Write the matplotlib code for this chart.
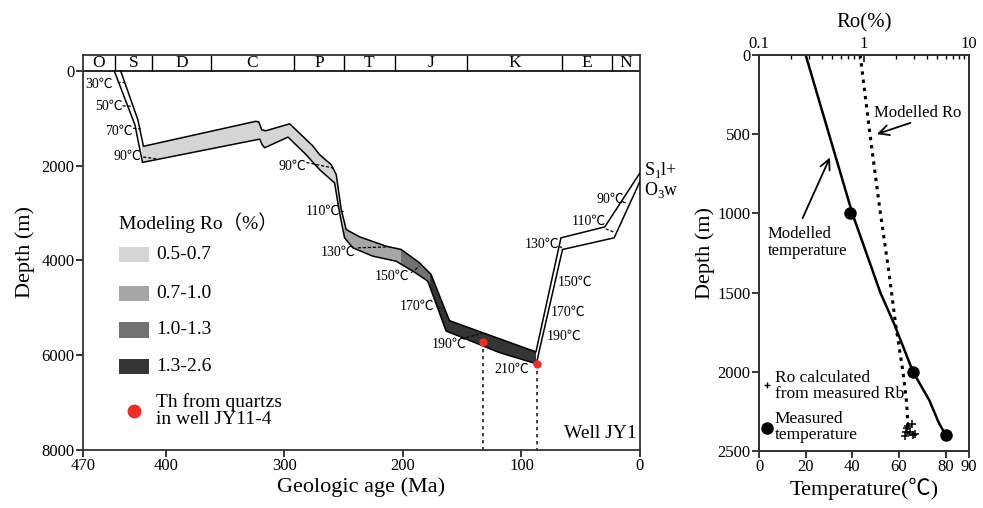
import numpy as np
import matplotlib
matplotlib.use("Agg")
import matplotlib.pyplot as plt
from matplotlib.patches import Polygon, Rectangle
from matplotlib.ticker import NullFormatter

plt.rcParams['font.family'] = ['Liberation Serif', 'Noto Sans CJK SC', 'DejaVu Serif']
plt.rcParams['mathtext.fontset'] = 'custom'
plt.rcParams['mathtext.rm'] = 'Liberation Serif'

# ---- burial history (age Ma, depth m) ----
top_age = [438.2, 423.7, 419.0, 324.3, 321.7, 319.2, 315.8, 295.6, 276.2, 270.3, 260.5, 256.3,
           252.1, 247.9, 236.6, 214.1, 201.5, 186.1, 176.3, 160.8, 87.8, 66.7, 29.7, 0]
top_depth = [0, 1030, 1590, 1063, 1074, 1242, 1263, 1116, 1579, 1768, 1979, 2189,
             2926, 3347, 3501, 3699, 3768, 4049, 4295, 5270, 5930, 3522, 3291, 2150]
bot_age = [443.6, 426.2, 419.8, 320.9, 318.8, 316.7, 297.0, 282.0, 270.3, 257.7, 253.5, 249.3,
           242.3, 225.4, 205.8, 190.0, 179.1, 163.6, 118.7, 87.5, 65.4, 21.8, 0]
bot_depth = [0, 1137, 1930, 1438, 1558, 1621, 1396, 1760, 2084, 2364, 2996, 3522,
             3733, 3909, 4015, 4250, 4436, 5488, 5943, 6180, 3768, 3522, 2330]

# Ro zones along the band (older age, younger age)
zone_ranges = [(419.8, 250), (250, 202), (202, 177.5), (177.5, 87.6)]
zone_labels = ['0.5-0.7', '0.7-1.0', '1.0-1.3', '1.3-2.6']
zone_colors = ['#d5d5d5', '#a6a6a6', '#727272', '#353535']

# geologic periods
period_bounds = [470, 443, 412, 362, 292, 250, 207, 146, 66, 24, 0]
period_names = ['O', 'S', 'D', 'C', 'P', 'T', 'J', 'K', 'E', 'N']

# isotherms: label position and dashed crossing
iso_text = ['30℃', '50℃', '70℃', '90℃', '90℃', '110℃', '130℃', '150℃', '170℃', '190℃',
            '210℃', '190℃', '170℃', '150℃', '130℃', '110℃', '90℃']
iso_age = [444.7, 436.6, 428.1, 420.5, 281.5, 253.5, 240, 194.5, 173.5, 146.7,
           93.4, 78.8, 75.1, 69.6, 68.1, 28.9, 13.4]
iso_depth = [274, 752, 1278, 1804, 2015, 2962, 3838, 4331, 4962, 5768,
             6295, 5594, 5089, 4457, 3663, 3173, 2716]
iso_side = ['r'] * 11 + ['l', 'l', 'l', 'r', 'r', 'r']
seg_age = [(441, 435), (436.6, 429), (427.6, 421.4), (419.2, 406.6), (281.5, 258.9),
           (253.5, 250.7), (238.1, 211.4), (193.1, 186.1), (171, 165.2), (146.7, 133.5),
           (68.1, 64.8), (28.9, 21.8), (14.5, 10.5)]
seg_depth = [(225, 225), (735, 745), (1210, 1225), (1817, 1859), (1931, 2048),
             (2962, 2962), (3733, 3712), (4259, 4120), (5010, 5000), (5627, 5540),
             (3699, 3754), (3333, 3404), (2760, 2800)]

# fluid inclusion Th points
th_age = [132.2, 87.3]
th_depth = [5726, 6190]

# ---- right panel ----
mod_temp = [20, 30, 40, 52, 58, 66, 73, 77, 80]
mod_temp_depth = [0, 500, 1000, 1500, 1700, 2000, 2180, 2320, 2400]
mod_ro = [0.92, 1.14, 1.40, 1.75, 2.0, 2.35, 2.55, 2.65]
mod_ro_depth = [0, 500, 950, 1400, 1700, 2000, 2200, 2400]
meas_temp = [39, 66, 80]
meas_temp_depth = [1000, 2000, 2400]
rb_ro = [2.64, 2.85, 2.51, 2.74, 3.06, 2.46, 2.91, 2.59]
rb_depth = [2342, 2330, 2378, 2378, 2393, 2405, 2399, 2357]

fig = plt.figure(figsize=(9.83, 5.08), dpi=100)
ax = fig.add_axes([83 / 983, 1 - 450 / 508, (640 - 83) / 983, (450 - 55) / 508])

# band fills by Ro zone
verts = list(zip(top_age, top_depth)) + list(zip(bot_age[::-1], bot_depth[::-1]))
for (a_hi, a_lo), col in zip(zone_ranges, zone_colors):
    poly = Polygon(verts, closed=True, facecolor=col, edgecolor='none', zorder=1)
    ax.add_patch(poly)
    clip = Rectangle((a_lo, -400), a_hi - a_lo, 9000, transform=ax.transData)
    poly.set_clip_path(clip)

ax.plot(top_age, top_depth, color='k', lw=1.1, zorder=3)
ax.plot(bot_age, bot_depth, color='k', lw=1.1, zorder=3)

for (a0, a1), (d0, d1) in zip(seg_age, seg_depth):
    ax.plot([a0, a1], [d0, d1], color='k', lw=0.9, ls=(0, (2.5, 1.5)), zorder=4)
for t, a, d, s in zip(iso_text, iso_age, iso_depth, iso_side):
    ax.text(a, d, t, fontsize=10, ha='right' if s == 'r' else 'left', va='center', zorder=5)

# Th points and dotted drop lines
for a, d in zip(th_age, th_depth):
    ax.plot([a, a], [d, 8000], color='#222222', lw=1.2, ls=(0, (2, 2.2)), zorder=2)
ax.plot(th_age, th_depth, 'o', color='#e8302a', ms=5, zorder=6)

# period bar
ax.axhline(0, color='k', lw=1.2)
ax.vlines(period_bounds[1:-1], -337, 0, colors='k', lw=1)
for i, name in enumerate(period_names):
    mid = (period_bounds[i] + period_bounds[i + 1]) / 2
    ax.text(mid, -168, name, fontsize=12.5, ha='center', va='center')

ax.set_xlim(470, 0)
ax.set_ylim(8000, -337)
ax.set_xticks([470, 400, 300, 200, 100, 0])
ax.set_yticks([0, 2000, 4000, 6000, 8000])
ax.tick_params(direction='out', length=5, width=1.1, labelsize=12, pad=1)
for sp in ax.spines.values():
    sp.set_linewidth(1.3)
    sp.set_color('#333333')
ax.set_xlabel('Geologic age (Ma)', fontsize=16, labelpad=2)
ax.set_ylabel('Depth (m)', fontsize=16, labelpad=5)

# legend
ax.text(0.065, 0.5754, 'Modeling Ro（%）', transform=ax.transAxes, fontsize=14,
        ha='left', va='center')
leg_y = [0.4937, 0.3962, 0.3038, 0.2109]
for yy, col, lab in zip(leg_y, zone_colors, zone_labels):
    ax.add_patch(Rectangle((0.065, yy - 0.019), 0.0533, 0.038, transform=ax.transAxes,
                           facecolor=col, edgecolor='none'))
    ax.text(0.131, yy, lab, transform=ax.transAxes, fontsize=14, ha='left', va='center')
ax.plot([0.0921], [0.0987], 'o', color='#e8302a', ms=9, transform=ax.transAxes, clip_on=False)
ax.text(0.131, 0.0987, 'Th from quartzs\nin well JY11-4', transform=ax.transAxes,
        fontsize=14, ha='left', va='center', linespacing=1.0)
ax.text(0.9946, 0.043, 'Well JY1', transform=ax.transAxes, fontsize=14, ha='right', va='center')
ax.text(-3.4, 2084, r'S$_\mathrm{1}$l+', fontsize=13, ha='left', va='center', clip_on=False)
ax.text(-3.4, 2505, r'O$_\mathrm{3}$w', fontsize=13, ha='left', va='center', clip_on=False)

# ---- right panel ----
axr = fig.add_axes([759 / 983, 1 - 451 / 508, (969 - 759) / 983, (451 - 55) / 508])
axr.plot(mod_temp, mod_temp_depth, color='k', lw=1.8)
axr.plot(meas_temp, meas_temp_depth, 'o', color='k', ms=8)
axr.set_xlim(0, 90)
axr.set_ylim(2500, 0)
axr.set_xticks([0, 20, 40, 60, 80, 90])
axr.set_yticks([0, 500, 1000, 1500, 2000, 2500])
axr.tick_params(direction='out', length=5, width=1.1, labelsize=12, pad=1)
for sp in axr.spines.values():
    sp.set_linewidth(1.3)
    sp.set_color('#333333')
axr.set_xlabel('Temperature(℃)', fontsize=16, labelpad=2)
axr.set_ylabel('Depth (m)', fontsize=16, labelpad=2)

ax2 = axr.twiny()
ax2.set_xscale('log')
ax2.set_xlim(0.1, 10)
ax2.plot(mod_ro, mod_ro_depth, color='k', lw=2.2, ls=(0, (1.1, 1.6)))
ax2.plot(rb_ro, rb_depth, '+', color='k', ms=6, mew=1.1)
ax2.set_xticks([0.1, 1, 10])
ax2.set_xticklabels(['0.1', '1', '10'])
ax2.xaxis.set_minor_formatter(NullFormatter())
ax2.tick_params(which='major', direction='in', length=5, width=1.1, labelsize=12, pad=2)
ax2.tick_params(which='minor', direction='in', length=3, width=1)
ax2.set_xlabel('Ro(%)', fontsize=15, labelpad=6)
for sp in ax2.spines.values():
    sp.set_linewidth(1.3)
    sp.set_color('#333333')

axr.text(49.4, 366, 'Modelled Ro', fontsize=12, ha='left', va='center')
axr.annotate('', xy=(49.4, 505), xytext=(66, 423),
             arrowprops=dict(arrowstyle='->', lw=1.3, mutation_scale=18, color='k'))
axr.text(3.8, 1184, 'Modelled\ntemperature', fontsize=12, ha='left', va='center', linespacing=1.1)
axr.annotate('', xy=(30.9, 631), xytext=(18.2, 1046),
             arrowprops=dict(arrowstyle='->', lw=1.3, mutation_scale=18, color='k'))
axr.plot([3.3], [2083], '+', color='k', ms=5, mew=1)
axr.text(6.8, 2090, 'Ro calculated\nfrom measured Rb', fontsize=12.5, ha='left', va='center',
         linespacing=1.05)
axr.plot([3.3], [2353], 'o', color='k', ms=8)
axr.text(6.8, 2348, 'Measured\ntemperature', fontsize=12.5, ha='left', va='center',
         linespacing=1.05)

fig.savefig('out.png', dpi=100)
